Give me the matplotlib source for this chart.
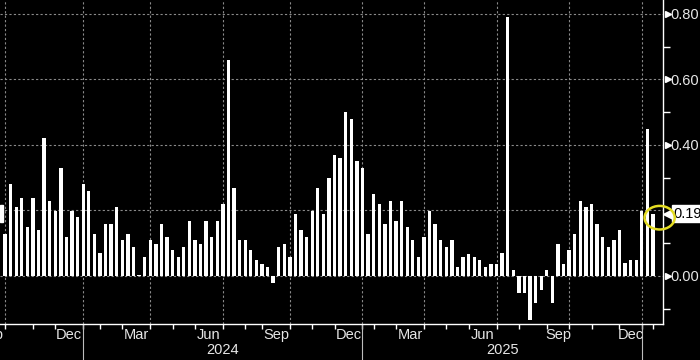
import matplotlib
matplotlib.use("Agg")
import matplotlib.pyplot as plt
import matplotlib.transforms as mtransforms
from matplotlib.patches import Ellipse, Rectangle
import numpy as np

plt.rcParams["font.family"] = ["Liberation Sans Narrow", "Liberation Sans", "DejaVu Sans"]

####################################################
# Data: weekly values, oldest first (Oct 2023 .. early 2026)

values = [
    0.128, 0.281, 0.210, 0.238, 0.149, 0.238, 0.140, 0.422, 0.230, 0.198,
    0.330, 0.119, 0.198, 0.180, 0.281, 0.260, 0.128, 0.070, 0.158, 0.158,
    0.210, 0.109, 0.128, 0.089, 0.003, 0.058, 0.109, 0.097, 0.158, 0.119,
    0.079, 0.058, 0.089, 0.167, 0.109, 0.097, 0.167, 0.119, 0.167, 0.219,
    0.660, 0.268, 0.109, 0.109, 0.079, 0.048, 0.038, 0.028, -0.021, 0.089,
    0.097, 0.058, 0.189, 0.140, 0.119, 0.198, 0.268, 0.189, 0.299, 0.369,
    0.360, 0.500, 0.480, 0.351, 0.330, 0.128, 0.250, 0.219, 0.158, 0.229,
    0.167, 0.229, 0.149, 0.109, 0.058, 0.119, 0.198, 0.158, 0.109, 0.089,
    0.109, 0.028, 0.058, 0.068, 0.058, 0.048, 0.028, 0.038, 0.038, 0.070,
    0.790, 0.017, -0.052, -0.052, -0.133, -0.083, -0.042, 0.017, -0.083, 0.097,
    0.038, 0.079, 0.128, 0.229, 0.210, 0.219, 0.158, 0.120, 0.089, 0.109,
    0.140, 0.039, 0.048, 0.048, 0.198, 0.449, 0.190,
]

# first observation of every month (bars are evenly spaced by observation)
month_names = ["Oct", "Nov", "Dec", "Jan", "Feb", "Mar", "Apr", "May", "Jun", "Jul",
               "Aug", "Sep", "Oct", "Nov", "Dec", "Jan", "Feb", "Mar", "Apr", "May",
               "Jun", "Jul", "Aug", "Sep", "Oct", "Nov", "Dec", "Jan", "Feb"]
month_start = [0, 5, 9, 14, 17, 21, 26, 30, 34, 39,
               43, 46, 51, 55, 59, 64, 66, 70, 75, 79,
               83, 88, 92, 97, 101, 105, 110, 114, 116]
year_names = ["2024", "2025"]

last_label = "0.19"

####################################################
# Figure

fg = "#e6e6e6"
grid_col = "#8a8a8a"

fig = plt.figure(figsize=(7, 3.6), dpi=100, facecolor="black")
ax = fig.add_axes([0, 36 / 360, 663 / 700, 324 / 360], facecolor="black")

x = np.arange(len(values))
ax.bar(x, values, width=0.6, color="white", zorder=3)

ax.set_xlim(-0.9, 117.8)
ax.set_ylim(-0.1466, 0.8427)

# dashed grid
for yv in [0.0, 0.2, 0.4, 0.6, 0.8]:
    ax.axhline(yv, color=grid_col, lw=0.8, ls=(0, (2, 2)), zorder=1)
quarter_starts = [s for s, m in zip(month_start, month_names) if m in ("Jan", "Apr", "Jul", "Oct")]
for xv in quarter_starts:
    ax.axvline(xv, color=grid_col, lw=0.8, ls=(0, (2, 2)), zorder=1)

# spines
for side in ["top", "left"]:
    ax.spines[side].set_visible(False)
for side in ["bottom", "right"]:
    ax.spines[side].set_color("white")
    ax.spines[side].set_linewidth(1.0)

# x axis: month ticks, quarter-end labels, year labels
ax.set_xticks(month_start)
ax.set_xticklabels([])
ax.tick_params(axis="x", direction="out", length=3.5, width=1, color="white")

trans_x = mtransforms.blended_transform_factory(ax.transData, ax.transAxes)
bounds = month_start + [None]
for i, m in enumerate(month_names):
    if m in ("Dec", "Mar", "Jun", "Sep") and bounds[i + 1] is not None:
        xc = (bounds[i] + bounds[i + 1]) / 2
        ax.text(xc, -0.033, m, transform=trans_x, ha="center", va="center",
                color=fg, fontsize=10.5, clip_on=False)
# partly hidden label on the far left
ax.text(-2.6, -0.033, "Sep", transform=trans_x, ha="center", va="center",
        color=fg, fontsize=10.5, clip_on=False)

jan_starts = [s for s, m in zip(month_start, month_names) if m == "Jan"]
for xv in jan_starts:
    ax.plot([xv, xv], [0, -0.12], transform=trans_x, color="#bdbdbd", lw=0.8, clip_on=False)
for i, yname in enumerate(year_names):
    xc = (jan_starts[i] + jan_starts[i + 1]) / 2
    ax.text(xc, -0.081, yname, transform=trans_x, ha="center", va="center",
            color=fg, fontsize=10.5, clip_on=False)

# y axis on the right
ax.yaxis.tick_right()
ax.set_yticks([0.0, 0.2, 0.4, 0.6, 0.8])
ax.set_yticklabels(["0.00", "", "0.40", "0.60", "0.80"])
ax.set_yticks([-0.1, 0.1, 0.3, 0.5, 0.7], minor=True)
ax.tick_params(axis="y", which="major", length=0, pad=5.5, labelcolor=fg, labelsize=10.5)
ax.tick_params(axis="y", which="minor", length=5, width=1, color="white", direction="out")

trans_y = mtransforms.blended_transform_factory(ax.transAxes, ax.transData)
ax.plot([1 + 4.5 / 663] * 4, [0.0, 0.4, 0.6, 0.8], transform=trans_y, ls="none",
        marker=">", ms=5, color="white", clip_on=False)

# last value label
last = values[-1]
box = Rectangle((1 + 9 / 663, last - 0.026), 40 / 663, 0.052, transform=trans_y,
                color="white", clip_on=False, zorder=5)
ax.add_patch(box)
ax.plot([1 + 6 / 663], [last], transform=trans_y, marker="<", ms=8, color="white",
        ls="none", clip_on=False, zorder=5)
ax.text(1 + 10 / 663, last, last_label, transform=trans_y, ha="left", va="center",
        color="black", fontsize=10.5, clip_on=False, zorder=6)

# yellow highlight ring around the latest bar
ring = Ellipse((len(values) - 1 + 1.2, last - 0.012), 5.4, 0.072, fill=False,
               ec="#e4dc22", lw=1.8, clip_on=False, zorder=7)
ax.add_patch(ring)

# small white mark at the left edge
fig.patches.append(Rectangle((0, (360 - 222) / 360), 3 / 700, 17 / 360,
                             transform=fig.transFigure, color="white"))

fig.savefig("out.png", dpi=100, facecolor="black")
